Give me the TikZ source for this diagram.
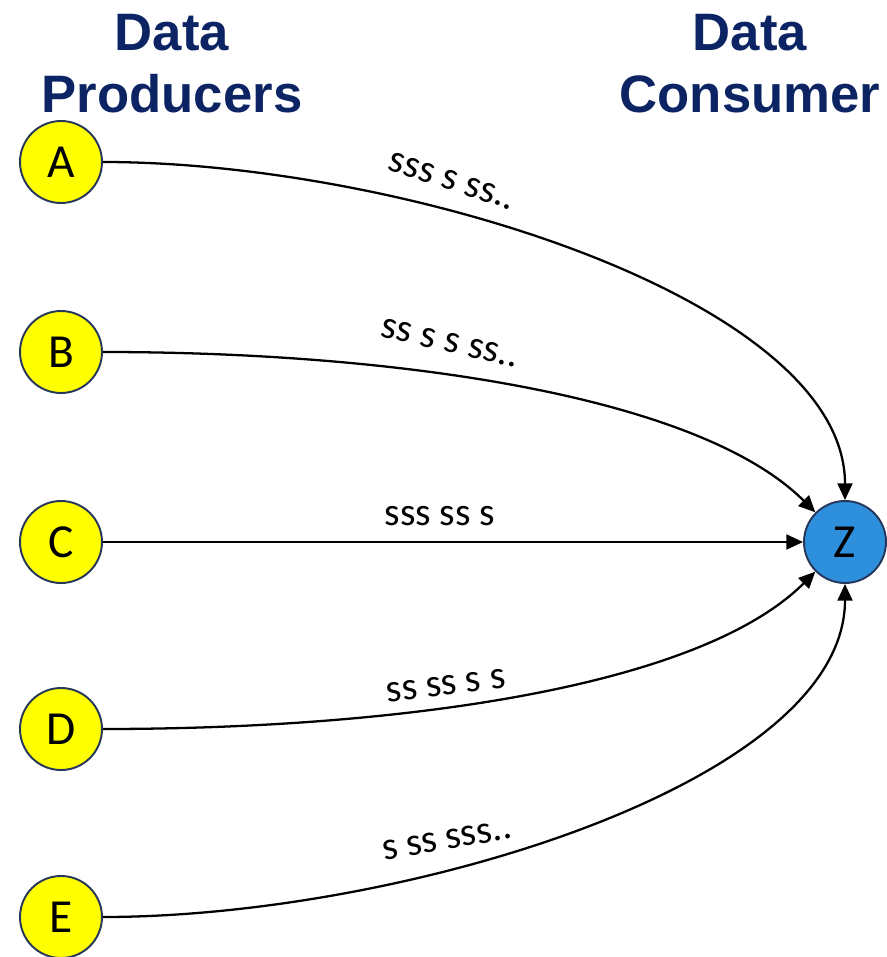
\documentclass[tikz,border=0pt]{standalone}
\usepackage{fontspec}
\setmainfont{Carlito}
\newfontfamily\titlefont{Liberation Sans}
\usetikzlibrary{arrows.meta}
\definecolor{titleblue}{RGB}{12,36,100}
\definecolor{nodeyellow}{RGB}{255,255,0}
\definecolor{nodeblue}{RGB}{46,143,220}
\definecolor{rimcol}{RGB}{38,55,90}
\tikzset{
  titletext/.style={font=\titlefont\bfseries\fontsize{30}{36}\selectfont, text=titleblue, anchor=base, inner sep=0pt},
  prodnode/.style={circle, draw=rimcol, line width=1.1pt, fill=nodeyellow, minimum size=1.64cm, inner sep=0pt, font=\fontsize{27}{30}\selectfont},
  consnode/.style={prodnode, fill=nodeblue},
  conn/.style={line width=1.3pt, -{Triangle[length=9.5pt, width=8.5pt]}},
  flowlabel/.style={font=\fontsize{22.5}{26}\selectfont, inner sep=0pt, anchor=center}
}
\begin{document}
\begin{tikzpicture}[x=0.02cm, y=-0.02cm]
\useasboundingbox (0,0) rectangle (886,957);
\node[titletext] (t1) at (172,50) {Data};
\node[titletext] (t2) at (172,112) {Producers};
\node[titletext] (t3) at (750,50) {Data};
\node[titletext] (t4) at (750,112) {Consumer};

\node[prodnode] (A) at (61,162) {A};
\node[prodnode] (B) at (61,352) {B};
\node[prodnode] (C) at (61,542) {C};
\node[prodnode] (D) at (61,729) {D};
\node[prodnode] (E) at (61,917) {E};
\node[consnode] (Z) at (845,542) {Z};

\draw[conn] (A.east) .. controls +(298,0) and +(0,-200) .. (Z.north);
\draw[conn] (B.east) .. controls +(300,0) and +(-115,-115) .. (Z.135);
\draw[conn] (C.east) -- (Z.west);
\draw[conn] (D.east) .. controls +(300,0) and +(-115,115) .. (Z.225);
\draw[conn] (E.east) .. controls +(298,0) and +(0,200) .. (Z.south);

\node[flowlabel, rotate=-18] (la) at (452,181) {sss s ss..};
\node[flowlabel, rotate=-13] (lb) at (450,343) {ss s s ss..};
\node[flowlabel] (lc) at (440,516) {sss ss s};
\node[flowlabel, rotate=7] (ld) at (446,686) {ss ss s s};
\node[flowlabel, rotate=10] (le) at (447,840) {s ss sss..};
\end{tikzpicture}
\end{document}
